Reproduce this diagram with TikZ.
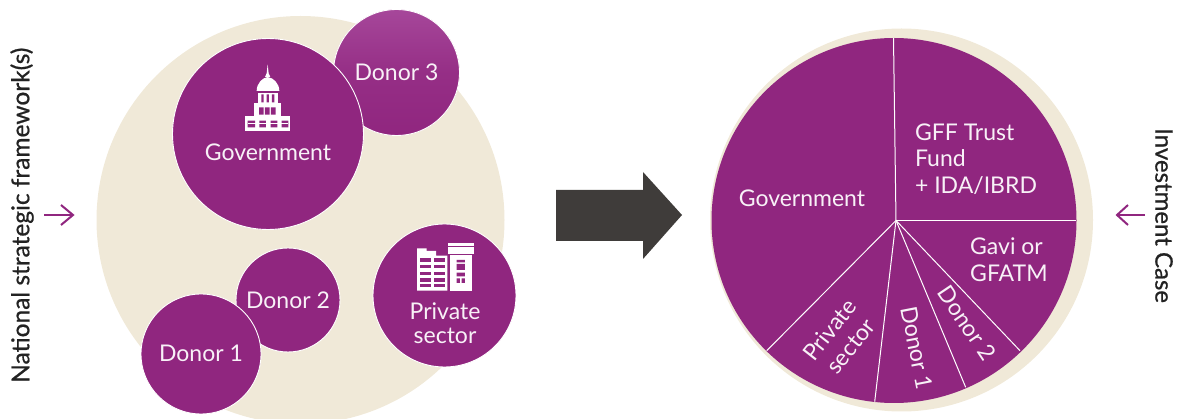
\documentclass[tikz,border=0pt]{standalone}
\usepackage{fontspec}
\setmainfont{Lato}
\newfontfamily\sidefont[FakeBold=0.7]{Lato}
\definecolor{plum}{HTML}{90267F}
\definecolor{plumtop}{HTML}{A6479A}
\definecolor{cream}{HTML}{F0E9D8}
\definecolor{ink}{HTML}{222222}
\definecolor{slate}{HTML}{3F3C3A}
\definecolor{paper}{HTML}{F8F1F7}
\tikzset{
  blob/.style={circle,fill=plum,draw=white,line width=0.9pt,inner sep=0pt},
  lab/.style={text=paper,font=\fontsize{23}{26.5}\selectfont,inner sep=0pt,align=center},
  labl/.style={lab,align=left},
  side/.style={text=ink,inner sep=0pt},
  spoke/.style={draw=white,line width=1pt},
  pointer/.style={draw=plum,line width=2pt},
  icon/.style={fill=white},
  hole/.style={fill=plum}
}
\begin{document}
\begin{tikzpicture}[x=1pt,y=-1pt]
\useasboundingbox (0,0) rectangle (1181,419);
% left cream disc
\begin{scope}
\clip (0,0) rectangle (1181,419);
\fill[cream] (300.5,220) circle[radius=204];
\end{scope}
% left circles
\node[blob,minimum size=126pt,top color=plumtop,bottom color=plum,middle color=plum!75!plumtop,draw=white] (d3) at (396.5,72.5) {};
\node[blob,minimum size=191pt] (gov) at (268,134) {};
\node[blob,minimum size=143pt] (priv) at (444.5,295.5) {};
\node[blob,minimum size=104pt] (d2) at (288,300) {};
\node[blob,minimum size=120pt] (d1) at (201,354) {};
\node[lab] (td3) at (396.5,72) {Donor 3};
\node[lab] (tgov) at (268,152) {Government};
\node[lab,font=\fontsize{23}{24.5}\selectfont] (tpriv) at (445,323) {Private\\sector};
\node[lab] (td2) at (288,300) {Donor 2};
\node[lab] (td1) at (201,353) {Donor 1};
% capitol icon
\begin{scope}[shift={(235,55)},x=0.3333pt,y=-0.3333pt]
\fill[icon] (95,55) -- (98,28) -- (101,55) -- (106,66) -- (90,66) -- cycle;
\fill[icon] (65,108) .. controls (65,85) and (82,68) .. (98,66) .. controls (115,68) and (133,85) .. (133,108) -- cycle;
\fill[icon] (68,113) rectangle (130,145);
\fill[hole] (79,118) rectangle (86,142) (95,118) rectangle (102,142) (111,118) rectangle (118,142);
\fill[icon] (58,145) rectangle (137,182);
\fill[hole] (72,157) rectangle (86,179) (90,157) rectangle (104,179) (108,157) rectangle (122,179);
\fill[icon] (30,182) rectangle (165,228);
\fill[hole] (38,197) rectangle (60,217) (73,197) rectangle (93,217) (107,197) rectangle (127,217) (140,197) rectangle (160,217);
\fill[icon] (38,203) rectangle (160,206);
\end{scope}
% buildings icon
\begin{scope}[shift={(410,235)},x=0.3333pt,y=-0.3333pt]
\fill[icon] (21,40) -- (50,40) -- (50,48) -- (78,48) -- (78,62) -- (112,62) -- (112,167) -- (21,167) -- cycle;
\foreach \r in {70,90,110,130,147}{
  \fill[hole] (30,\r) rectangle (63,\r+10);
  \fill[hole] (71,\r) rectangle (104,\r+10);
}
\fill[icon] (114,24) rectangle (192,33);
\fill[icon] (114,37) rectangle (192,57);
\fill[icon] (120,60) rectangle (185,167);
\fill[hole] (140,75) rectangle (165,82) (140,87) rectangle (165,105) (140,113) rectangle (165,124) (140,130) rectangle (150,144) (155,130) rectangle (165,144);
\end{scope}
% big arrow
\fill[slate] (556,190) -- (643,190) -- (643,172) -- (682,215) -- (643,259) -- (643,241) -- (556,241) -- cycle;
% pie
\fill[cream] (901.5,220) circle[radius=191.5];
\node[circle,fill=plum,inner sep=0pt,minimum size=365pt] (pie) at (894,220.5) {};
\coordinate (hub) at (896,220.5);
\coordinate (s0) at (893.5,38);
\coordinate (s1) at (1076,220.5);
\coordinate (s2) at (1020,350.7);
\coordinate (s3) at (965.7,387.3);
\coordinate (s4) at (874.7,401.7);
\coordinate (s5) at (766.7,350.7);
\foreach \s in {s0,s1,s2,s3,s4,s5}{\draw[spoke] (hub) -- (\s);}
\node[lab] (pgov) at (802,198) {Government};
\node[labl,anchor=center] (pgff) at (976,159) {GFF Trust\\Fund\\+ IDA/IBRD};
\node[labl,anchor=north west] (pgavi) at (970,238) {Gavi or\\GFATM};
\node[lab,rotate=52] (ppriv) at (840,338) {Private\\sector};
\node[lab,rotate=-79] (pd1) at (917,348) {Donor 1};
\node[lab,rotate=-56] (pd2) at (967,323) {Donor 2};
% side labels and arrows
\node[side,rotate=90,anchor=west,font=\sidefont\fontsize{24.5}{28}\selectfont] (nat) at (22,383) {National strategic framework(s)};
\node[side,rotate=-90,anchor=west,font=\sidefont\fontsize{24}{28}\selectfont] (inv) at (1164,128) {Investment Case};
\coordinate (la0) at (44,215);
\coordinate (la1) at (73,215);
\coordinate (ra0) at (1145,215);
\coordinate (ra1) at (1117,215);
\draw[pointer] (la0) -- (la1);
\draw[pointer] (61,205) -- (la1) -- (61,225);
\draw[pointer] (ra0) -- (ra1);
\draw[pointer] (1128,205) -- (ra1) -- (1128,225);
\end{tikzpicture}
\end{document}
